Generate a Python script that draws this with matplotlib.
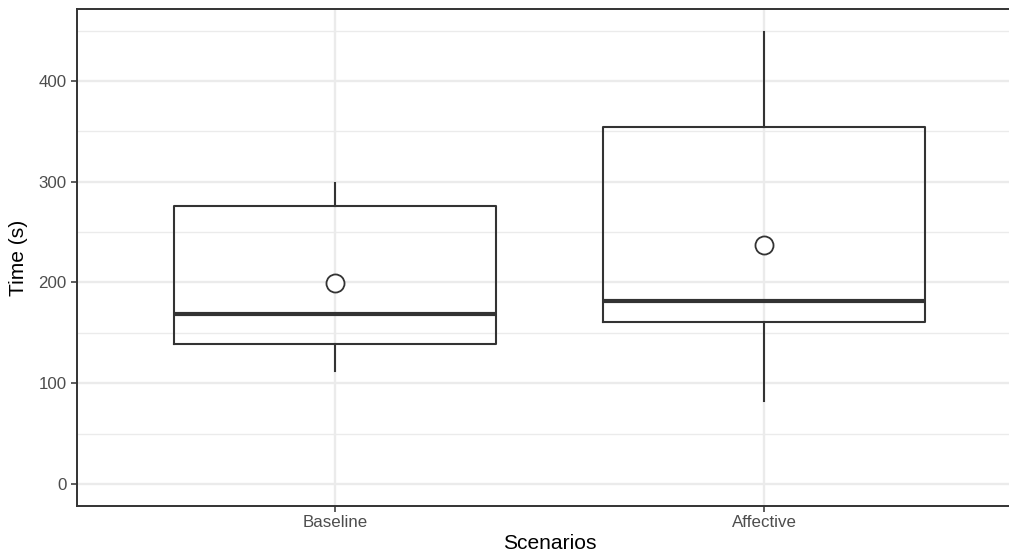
import matplotlib
matplotlib.use('Agg')
import matplotlib.pyplot as plt
from matplotlib.ticker import MultipleLocator

plt.rcParams['font.family'] = ['Liberation Sans', 'DejaVu Sans']

# Summary statistics per scenario (seconds)
scenarios = ['Baseline', 'Affective']
whisker_low = [112, 82]
q1 = [139, 161]
median = [169, 182]
q3 = [276, 354]
whisker_high = [299, 449]
mean = [199, 237]

GRID = '#EBEBEB'
DARK = '#333333'

fig = plt.figure(figsize=(10.09, 5.57), dpi=100)
# panel runs slightly past the right edge of the canvas
ax = fig.add_axes([0.0768, 0.0907, 0.9356, 0.8932])

stats = []
for i, name in enumerate(scenarios):
    stats.append({
        'label': name,
        'whislo': whisker_low[i],
        'q1': q1[i],
        'med': median[i],
        'q3': q3[i],
        'whishi': whisker_high[i],
        'fliers': [],
    })

positions = list(range(1, len(scenarios) + 1))
ax.bxp(stats, positions=positions, widths=0.75, showcaps=False,
       boxprops=dict(color=DARK, linewidth=1.5),
       whiskerprops=dict(color=DARK, linewidth=1.5),
       medianprops=dict(color=DARK, linewidth=3.0, solid_capstyle='butt'),
       zorder=3)

ax.plot(positions, mean, linestyle='none', marker='o', markersize=13,
        markerfacecolor='white', markeredgecolor=DARK, markeredgewidth=1.3,
        zorder=4)

# y range covers 0 and the data, with ggplot-style 5% padding
lo, hi = 0, max(whisker_high)
pad = 0.05 * (hi - lo)
ax.set_ylim(lo - pad, hi + pad)
ax.set_xlim(0.4, len(scenarios) + 0.6)

ax.yaxis.set_major_locator(MultipleLocator(100))
ax.yaxis.set_minor_locator(MultipleLocator(50))
ax.set_xticks(positions)
ax.set_xticklabels(scenarios)

ax.grid(True, which='major', color=GRID, linewidth=1.7, zorder=0)
ax.grid(True, which='minor', axis='y', color=GRID, linewidth=1.0, zorder=0)
ax.set_axisbelow(True)

for spine in ax.spines.values():
    spine.set_color(DARK)
    spine.set_linewidth(1.4)
ax.spines['right'].set_visible(False)

ax.tick_params(axis='both', which='major', length=4, width=1.1, color=DARK,
               labelsize=12.2, labelcolor='#4D4D4D')
ax.tick_params(axis='x', pad=2)
ax.tick_params(axis='y', pad=3.8)
ax.tick_params(axis='y', which='minor', length=0)

ax.set_xlabel('Scenarios', fontsize=15.1, color='black')
ax.set_ylabel('Time (s)', fontsize=15.1, color='black')
ax.xaxis.set_label_coords(0.5, -0.0553)
ax.yaxis.set_label_coords(-0.0524, 0.5)

fig.savefig('out.png', dpi=100)
